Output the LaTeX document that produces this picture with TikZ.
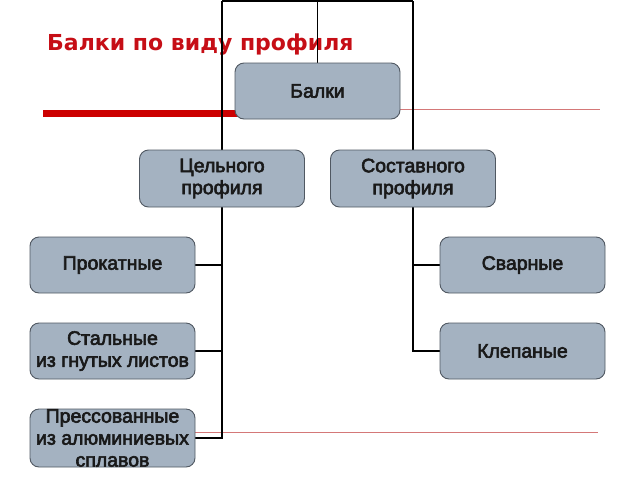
\documentclass[tikz,border=0pt]{standalone}
\usepackage{fontspec}
\setmainfont{Liberation Sans}
\newfontfamily\titlefont{DejaVu Sans}
\newfontface\boxfont[FakeBold=3]{Liberation Sans}
\definecolor{boxfill}{RGB}{164,178,193}
\definecolor{boxborder}{RGB}{80,88,98}
\definecolor{titlered}{RGB}{198,14,22}
\definecolor{thickred}{RGB}{204,0,0}
\definecolor{thinred}{RGB}{212,120,120}
\definecolor{boxtext}{RGB}{25,25,25}
\tikzset{
  beambox/.style={draw=boxborder, fill=boxfill, line width=0.9pt, rounded corners=9pt,
    minimum width=165pt, minimum height=57pt, inner sep=0pt, align=center,
    text=boxtext, font=\boxfont\fontsize{19.5}{22}\selectfont},
  link/.style={draw=black, line width=1.4pt},
  redthick/.style={draw=thickred, line width=7pt},
  redthin/.style={draw=thinred, line width=1pt}
}
\begin{document}
\begin{tikzpicture}[x=1pt,y=-1pt]
\useasboundingbox (0,0) rectangle (640,480);
% title
\node[anchor=base west, inner sep=0pt, text=titlered, font=\titlefont\bfseries\fontsize{22}{25}\selectfont] (title) at (47,50) {Балки по виду профиля};
% decorative red lines
\coordinate (rA) at (43,113);
\coordinate (rB) at (240,113);
\coordinate (rC) at (398,109);
\coordinate (rD) at (600,109);
\coordinate (rE) at (195,432);
\coordinate (rF) at (598,432);
\draw[redthick] (rA) -- (rB);
\draw[redthin] (rC) -- (rD);
\draw[redthin] (rE) -- (rF);
% node positions
\coordinate (pBalki) at (317.5,91);
\coordinate (pCel) at (222,178.5);
\coordinate (pSost) at (413,178.5);
\coordinate (pProk) at (112.5,265);
\coordinate (pStal) at (112.5,351);
\coordinate (pPress) at (112.5,438);
\coordinate (pSvar) at (522.5,265);
\coordinate (pKlep) at (522.5,351);
\coordinate (topL) at (222,1);
\coordinate (topM) at (317.5,1);
\coordinate (topR) at (413,1);
% connectors
\draw[link] (topL) -- (topR);
\draw[link] (pBalki) -- (topM);
\draw[link] (topL) |- (pPress -| 195,0);
\draw[link] (topL) |- (pStal -| 195,0);
\draw[link] (topL) |- (pProk -| 195,0);
\draw[link] (topR) |- (pKlep -| 441,0);
\draw[link] (topR) |- (pSvar -| 441,0);
% boxes
\node[beambox, minimum height=56pt] (balki) at (pBalki) {Балки};
\node[beambox] (cel) at (pCel) {Цельного\\профиля};
\node[beambox] (sost) at (pSost) {Составного\\профиля};
\node[beambox, minimum height=56pt] (prok) at (pProk) {Прокатные};
\node[beambox, minimum height=56pt] (stal) at (pStal) {Стальные\\из гнутых листов};
\node[beambox, minimum height=58pt] (press) at (pPress) {Прессованные\\из алюминиевых\\сплавов};
\node[beambox, minimum height=56pt] (svar) at (pSvar) {Сварные};
\node[beambox, minimum height=56pt] (klep) at (pKlep) {Клепаные};
\end{tikzpicture}
\end{document}
